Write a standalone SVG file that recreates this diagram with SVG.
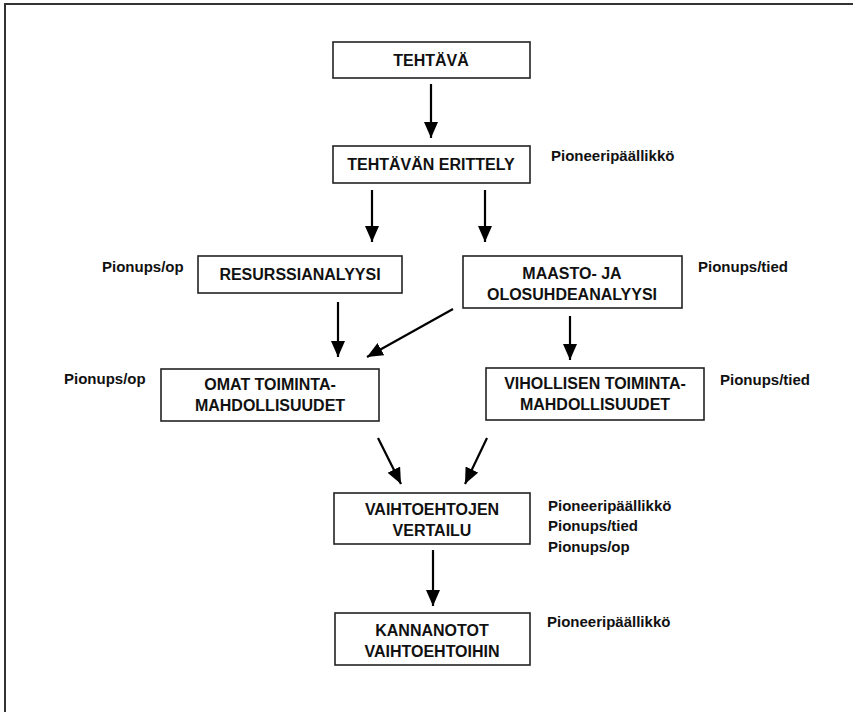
<svg xmlns="http://www.w3.org/2000/svg" width="853" height="712" viewBox="0 0 853 712">
<style>
.box{fill:#fff;stroke:#222;stroke-width:1.6}
.t{font-family:"Liberation Sans",Arial,sans-serif;font-weight:bold;font-size:16px;fill:#111;text-anchor:middle}
.lb{font-family:"Liberation Sans",Arial,sans-serif;font-weight:bold;font-size:15px;fill:#111}
.c{fill:none;stroke:#000;stroke-width:2.2;marker-end:url(#ah)}
.frame{fill:none;stroke:#333;stroke-width:2}
</style>
<defs>
<marker id="ah" markerUnits="userSpaceOnUse" markerWidth="16" markerHeight="18" viewBox="0 0 16 18" refX="16" refY="7" orient="auto">
<path d="M0,0 L16,7 L0,14 Z" fill="#000"/>
</marker>
</defs>
<rect width="853" height="712" fill="#fff"/>
<path class="frame" d="M5,712 V4 H853"/>
<g id="n-tehtava"><rect class="box" x="333" y="42" width="197" height="36"/><text class="t" x="431" y="66">TEHTÄVÄ</text></g>
<g id="n-erittely"><rect class="box" x="333" y="146" width="197" height="37"/><text class="t" x="431" y="170">TEHTÄVÄN ERITTELY</text><text class="lb" x="551" y="161">Pioneeripäällikkö</text></g>
<g id="n-resurssi"><rect class="box" x="198" y="256" width="204" height="37"/><text class="t" x="300" y="280">RESURSSIANALYYSI</text><text class="lb" x="102" y="272">Pionups/op</text></g>
<g id="n-maasto"><rect class="box" x="463" y="256" width="219" height="52"/><text class="t" x="572" y="279">MAASTO- JA</text><text class="t" x="572" y="300">OLOSUHDEANALYYSI</text><text class="lb" x="698" y="272">Pionups/tied</text></g>
<g id="n-omat"><rect class="box" x="161" y="369" width="218" height="52"/><text class="t" x="270" y="390">OMAT TOIMINTA-</text><text class="t" x="270" y="411">MAHDOLLISUUDET</text><text class="lb" x="64" y="384">Pionups/op</text></g>
<g id="n-vihollisen"><rect class="box" x="486" y="368" width="218" height="52"/><text class="t" x="595" y="389">VIHOLLISEN TOIMINTA-</text><text class="t" x="595" y="410">MAHDOLLISUUDET</text><text class="lb" x="720" y="385">Pionups/tied</text></g>
<g id="n-vertailu"><rect class="box" x="334" y="493" width="196" height="51"/><text class="t" x="432" y="515">VAIHTOEHTOJEN</text><text class="t" x="432" y="536">VERTAILU</text><text class="lb" x="548" y="511">Pioneeripäällikkö</text><text class="lb" x="548" y="531">Pionups/tied</text><text class="lb" x="548" y="552">Pionups/op</text></g>
<g id="n-kannanotot"><rect class="box" x="335" y="613" width="195" height="52"/><text class="t" x="432" y="636">KANNANOTOT</text><text class="t" x="432" y="657">VAIHTOEHTOIHIN</text><text class="lb" x="547" y="627">Pioneeripäällikkö</text></g>
<g id="connectors">
<path class="c" d="M431,84 V138"/>
<path class="c" d="M372,190 V242"/>
<path class="c" d="M485,190 V242"/>
<path class="c" d="M338,302 V357"/>
<path class="c" d="M453,309 L367,357"/>
<path class="c" d="M570,316 V360"/>
<path class="c" d="M378,438 L401,484"/>
<path class="c" d="M487,438 L465,484"/>
<path class="c" d="M433,550 V606"/>
</g>
</svg>
